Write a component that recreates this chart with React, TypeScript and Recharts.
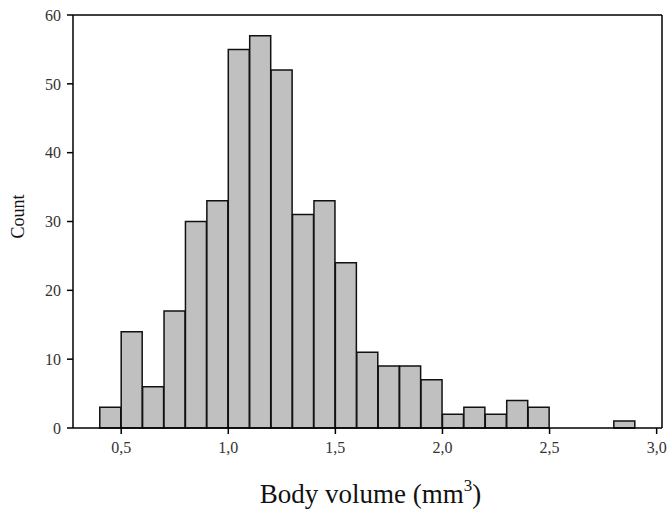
import React from "react";
import { ComposedChart, Bar, XAxis, YAxis, ReferenceLine, Label } from "recharts";

const binStarts = [0.4, 0.5, 0.6, 0.7, 0.8, 0.9, 1.0, 1.1, 1.2, 1.3, 1.4, 1.5, 1.6, 1.7, 1.8, 1.9, 2.0, 2.1, 2.2, 2.3, 2.4, 2.8];
const counts = [3, 14, 6, 17, 30, 33, 55, 57, 52, 31, 33, 24, 11, 9, 9, 7, 2, 3, 2, 4, 3, 1];
const binWidth = 0.1;
const xTicks = [0.5, 1.0, 1.5, 2.0, 2.5, 3.0];
const yTicks = [0, 10, 20, 30, 40, 50, 60];
const xDomain = [0.275, 3.025];
const yDomain = [0, 60];

const data = binStarts.map((s, i) => ({ x: +(s + binWidth / 2).toFixed(3), count: counts[i] }));

const FONT = "'Liberation Serif', 'Times New Roman', serif";
const tickStyle = { fontFamily: FONT, fontSize: 16, fill: "#333" };

const XLabel = (props: any) => {
  const vb = props.viewBox;
  const cx = vb.x + vb.width / 2;
  return (
    <text x={cx + 3} y={503} textAnchor="middle" fontFamily={FONT} fontSize={27} fill="#111">
      Body volume (mm
      <tspan fontSize={17} dy={-12}>3</tspan>
      <tspan dy={12}>)</tspan>
    </text>
  );
};

const YLabel = (props: any) => {
  const vb = props.viewBox;
  const cy = vb.y + vb.height / 2 - 5;
  const x = 24;
  return (
    <text x={x} y={cy} transform={`rotate(-90, ${x}, ${cy})`} textAnchor="middle" fontFamily={FONT} fontSize={18} fill="#111">
      Count
    </text>
  );
};

export default function App() {
  return (
    <div style={{ position: "absolute", left: 0, top: 0 }}>
      <ComposedChart
        width={668}
        height={514}
        data={data}
        margin={{ top: 15, right: 6, bottom: 0, left: 0 }}
        barCategoryGap={0}
        barGap={0}
      >
        <XAxis
          dataKey="x"
          type="number"
          domain={xDomain}
          ticks={xTicks}
          allowDataOverflow
          height={86}
          tickFormatter={(v: number) => v.toFixed(1).replace(".", ",")}
          tick={tickStyle}
          tickLine={{ stroke: "#000", strokeWidth: 1.5 }}
          axisLine={{ stroke: "#000", strokeWidth: 1.5 }}
          tickSize={6}
          tickMargin={8}
        >
          <Label content={<XLabel />} />
        </XAxis>
        <YAxis
          type="number"
          domain={yDomain}
          ticks={yTicks}
          width={73}
          tick={tickStyle}
          tickLine={{ stroke: "#000", strokeWidth: 1.5 }}
          axisLine={{ stroke: "#000", strokeWidth: 1.5 }}
          tickSize={6}
          tickMargin={6}
        >
          <Label content={<YLabel />} />
        </YAxis>
        <ReferenceLine y={60} stroke="#000" strokeWidth={1.5} ifOverflow="visible" />
        <ReferenceLine x={3.025} stroke="#000" strokeWidth={1.5} ifOverflow="visible" />
        <Bar dataKey="count" fill="#c0c0c0" stroke="#111" strokeWidth={1.5} isAnimationActive={false} />
      </ComposedChart>
    </div>
  );
}
